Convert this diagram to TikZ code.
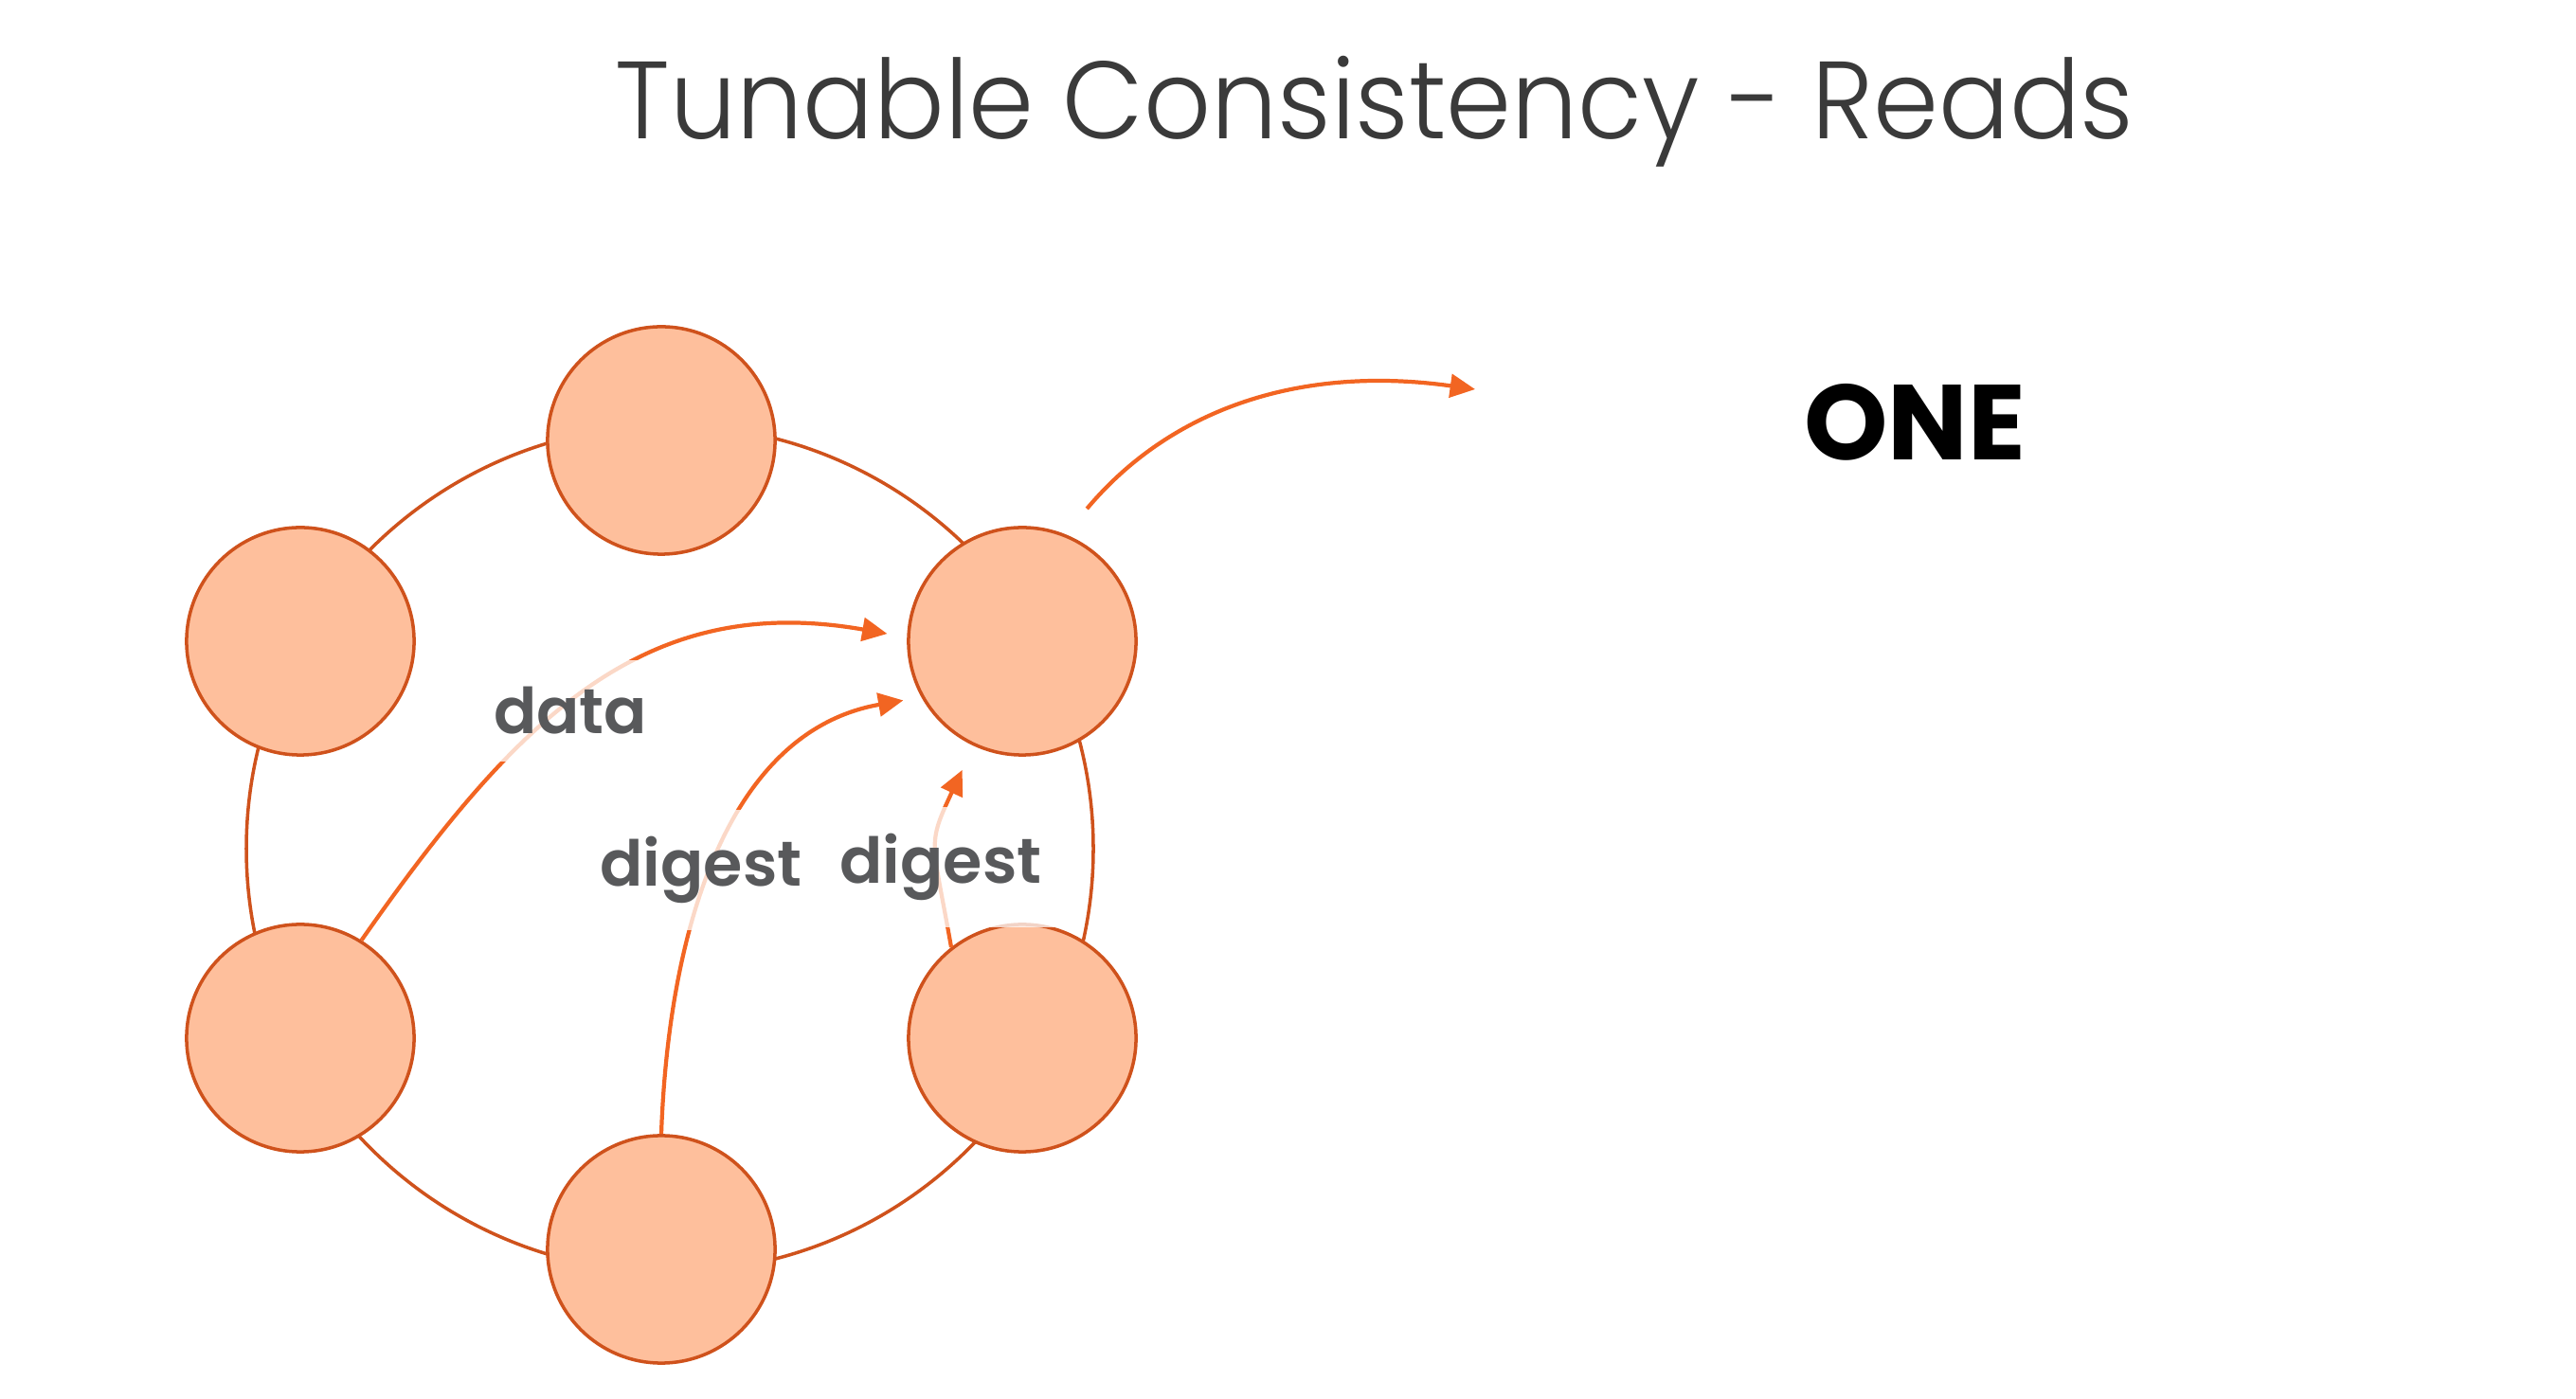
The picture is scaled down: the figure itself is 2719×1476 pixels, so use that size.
\documentclass[tikz,border=0pt]{standalone}
\usepackage{fontspec}
\setmainfont{Poppins}
\newfontfamily\medfont{Poppins SemiBold}
\newfontfamily\thinfont{Poppins Light}
\usetikzlibrary{arrows.meta}
\definecolor{nodefill}{HTML}{FEBF9C}
\definecolor{nodeline}{HTML}{CF521C}
\definecolor{arrowcol}{HTML}{F26522}
\definecolor{labelgray}{HTML}{58595B}
\definecolor{titlegray}{HTML}{3A3A3A}

\begin{document}
\begin{tikzpicture}[x=0.01cm,y=0.01cm,
    replica/.style={circle, draw=nodeline, fill=nodefill, line width=1pt, minimum size=2.4cm, inner sep=0pt},
    flow/.style={draw=arrowcol, line width=1.2pt, -{Triangle[length=7.5pt,width=7pt]}},
    msg/.style={text=labelgray, font=\medfont\fontsize{19}{22}\selectfont, anchor=base,
                fill=white, fill opacity=0.75, text opacity=1, inner xsep=10pt, inner ysep=8pt}]
  \useasboundingbox (0,0) rectangle (2719,1476);
  \node [anchor=base, text=titlegray, font=\thinfont\fontsize{33}{38}\selectfont] (title) at (1451,1329) {\scalebox{0.955}[1]{Tunable Consistency - Reads}};
  \node [anchor=base, text=black, font=\bfseries\fontsize{32}{36}\selectfont] (level) at (2021,990) {ONE};
  \draw [draw=nodeline, line width=1pt] (707,580) circle (447);
  \node [replica] (top) at (698,1011) {};
  \node [replica] (ul)  at (317,799) {};
  \node [replica] (ur)  at (1079,799) {};
  \node [replica] (ll)  at (317,380) {};
  \node [replica] (lr)  at (1079,380) {};
  \node [replica] (bot) at (698,157) {};
  \coordinate (client) at (1557,1065);
  \draw [flow, shorten <=10pt] (ur.68) to[out=50,in=172] (client);
  \draw [flow, shorten >=6pt] (ll.58) to[out=55,in=170,looseness=1.1] (ur.178);
  \draw [flow, shorten >=5.5pt] (bot.north) to[out=88,in=190] (ur.209);
  \draw [flow, shorten >=8pt] (lr.128) to[out=100,in=245,looseness=1.4] (ur.245);
  \node [msg] (data) at (602,701) {data};
  \node [msg] (dig1) at (740,540) {digest};
  \node [msg] (dig2) at (993,543) {digest};
\end{tikzpicture}
\end{document}
